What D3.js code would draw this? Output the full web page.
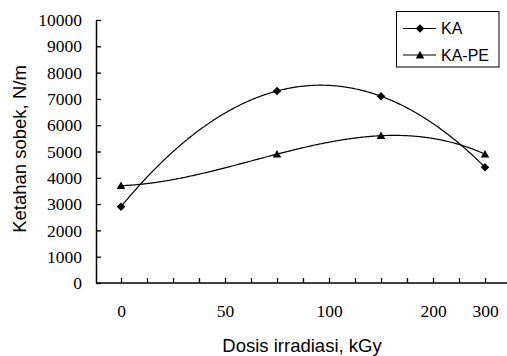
<!DOCTYPE html>
<html>
<head>
<meta charset="utf-8">
<script src="https://cdn.jsdelivr.net/npm/d3@7"></script>
<style>
  body { margin: 0; background: #fff; }
  svg { display: block; }
  .num text { font-family: "Liberation Serif", "Times New Roman", serif; font-size: 17.5px; }
</style>
</head>
<body>
<svg id="chart" width="507" height="356"></svg>
<script>
// donnees
var doses = [0, 75, 150, 300];
var tearKA = [2900, 7300, 7100, 4400];
var tearKAPE = [3700, 4900, 5600, 4900];
var doseLabels = [0, 50, 100, 200, 300];
var doseMinorTicks = [0, 12.5, 25, 37.5, 50, 62.5, 75, 87.5, 100, 125, 150, 175, 200, 250, 300];
var tearTicks = d3.range(0, 10001, 1000);

var W = 507, H = 356;
var svg = d3.select('#chart');
var SERIF = '"Liberation Serif", "Times New Roman", serif';
var SANS = '"Liberation Sans", Arial, sans-serif';

// axe x non lineaire (comme sur l'original)
var x = d3.scaleLinear().domain([0, 100, 200, 300]).range([121, 329, 433, 485]);
var y = d3.scaleLinear().domain([0, 10000]).range([283, 20]);
var x0 = 96;

// ajustement polynomial (courbe de tendance) en coordonnees ecran x
var polyfit = function(xs, ys, order){
  var n = order + 1, A = [], i, j, k;
  for(i = 0; i < n; i++){
    A.push([]);
    for(j = 0; j <= n; j++) A[i].push(0);
  }
  xs.forEach(function(xv, p){
    for(i = 0; i < n; i++){
      for(j = 0; j < n; j++) A[i][j] += Math.pow(xv, i + j);
      A[i][n] += ys[p] * Math.pow(xv, i);
    }
  });
  for(i = 0; i < n; i++){
    var piv = i;
    for(k = i + 1; k < n; k++) if(Math.abs(A[k][i]) > Math.abs(A[piv][i])) piv = k;
    var t = A[i]; A[i] = A[piv]; A[piv] = t;
    for(k = i + 1; k < n; k++){
      var f = A[k][i] / A[i][i];
      for(j = i; j <= n; j++) A[k][j] -= f * A[i][j];
    }
  }
  var c = new Array(n);
  for(i = n - 1; i >= 0; i--){
    var s = A[i][n];
    for(j = i + 1; j < n; j++) s -= A[i][j] * c[j];
    c[i] = s / A[i][i];
  }
  return function(xv){
    var r = 0;
    for(var q = 0; q < n; q++) r += c[q] * Math.pow(xv, q);
    return r;
  };
};

var trendPath = function(values){
  // normalisation pour la stabilite numerique
  var px = doses.map(function(d){ return (x(d) - x(0)) / 100; });
  var fit = polyfit(px, values, 3);
  var a = x(doses[0]), b = x(doses[doses.length - 1]);
  var pts = d3.range(a, b + 0.5, 1).map(function(p){ return [p, y(fit((p - x(0)) / 100))]; });
  return d3.line()(pts);
};

var diamond = {
  draw: function(ctx, size){
    var r = Math.sqrt(size) / 2;
    ctx.moveTo(0, -r); ctx.lineTo(r, 0); ctx.lineTo(0, r); ctx.lineTo(-r, 0); ctx.closePath();
  }
};
var triangle = {
  draw: function(ctx, size){
    var r = Math.sqrt(size) / 2;
    ctx.moveTo(0, -r); ctx.lineTo(r, r * 0.8); ctx.lineTo(-r, r * 0.8); ctx.closePath();
  }
};

var series = [
  {name: 'KA', values: tearKA, symbol: diamond, size: 72},
  {name: 'KA-PE', values: tearKAPE, symbol: triangle, size: 72}
];

// axe y
var yAxis = svg.append('g')
  .attr('class', 'num')
  .attr('transform', 'translate(' + x0 + ',0)')
  .call(d3.axisLeft(y).tickValues(tearTicks).tickFormat(d3.format('d'))
    .tickSizeInner(-5).tickSizeOuter(0).tickPadding(14));
yAxis.attr('font-family', SERIF).attr('font-size', 17.5);
yAxis.select('.domain').attr('stroke-width', 1.5);
yAxis.selectAll('.tick line').attr('stroke-width', 1.3);
yAxis.selectAll('text').attr('fill', '#000');

// axe x : petites graduations
var xAxis = svg.append('g')
  .attr('transform', 'translate(0,' + y(0) + ')')
  .call(d3.axisBottom(x).tickValues(doseMinorTicks).tickSizeInner(-5).tickSizeOuter(0).tickFormat(''));
xAxis.select('.domain').remove();
xAxis.selectAll('.tick line').attr('stroke-width', 1.3);
svg.append('line')
  .attr('x1', x0).attr('x2', W + 4)
  .attr('y1', y(0)).attr('y2', y(0))
  .attr('stroke', '#000').attr('stroke-width', 1.5);

// etiquettes x
var xLabels = svg.append('g')
  .attr('class', 'num')
  .attr('transform', 'translate(0,' + y(0) + ')')
  .call(d3.axisBottom(x).tickValues(doseLabels).tickSize(0).tickPadding(22).tickFormat(d3.format('d')));
xLabels.attr('font-family', SERIF).attr('font-size', 17.5);
xLabels.select('.domain').remove();
xLabels.selectAll('text').attr('fill', '#000');

// titres
svg.append('text')
  .attr('x', 302).attr('y', 352)
  .attr('text-anchor', 'middle')
  .style('font-family', SANS)
  .style('font-size', '18.5px')
  .text('Dosis irradiasi, kGy');
svg.append('text')
  .attr('transform', 'translate(26,149) rotate(-90)')
  .attr('text-anchor', 'middle')
  .style('font-family', SANS)
  .style('font-size', '18.5px')
  .text('Ketahan sobek, N/m');

// courbes et points
series.forEach(function(s){
  svg.append('path')
    .attr('d', trendPath(s.values))
    .attr('fill', 'none')
    .attr('stroke', '#000')
    .attr('stroke-width', 1.2);
  svg.selectAll(null)
    .data(doses)
    .enter().append('path')
    .attr('transform', function(d, i){ return 'translate(' + x(d) + ',' + y(s.values[i]) + ')'; })
    .attr('d', d3.symbol().type(s.symbol).size(s.size))
    .attr('fill', '#000');
});

// legende
var legend = svg.append('g');
legend.append('rect')
  .attr('x', 396.5).attr('y', 11.5).attr('width', 102.5).attr('height', 55.5)
  .attr('fill', '#fff').attr('stroke', '#000').attr('stroke-width', 1);
series.forEach(function(s, i){
  var ly = 28.5 + i * 26.5;
  legend.append('line')
    .attr('x1', 403).attr('x2', 436).attr('y1', ly).attr('y2', ly)
    .attr('stroke', '#000').attr('stroke-width', 1.2);
  legend.append('path')
    .attr('transform', 'translate(420,' + ly + ')')
    .attr('d', d3.symbol().type(s.symbol).size(s.size))
    .attr('fill', '#000');
  legend.append('text')
    .attr('x', 441).attr('y', ly + 5.5)
    .style('font-family', SANS)
    .style('font-size', '16px')
    .text(s.name);
});
</script>
</body>
</html>
